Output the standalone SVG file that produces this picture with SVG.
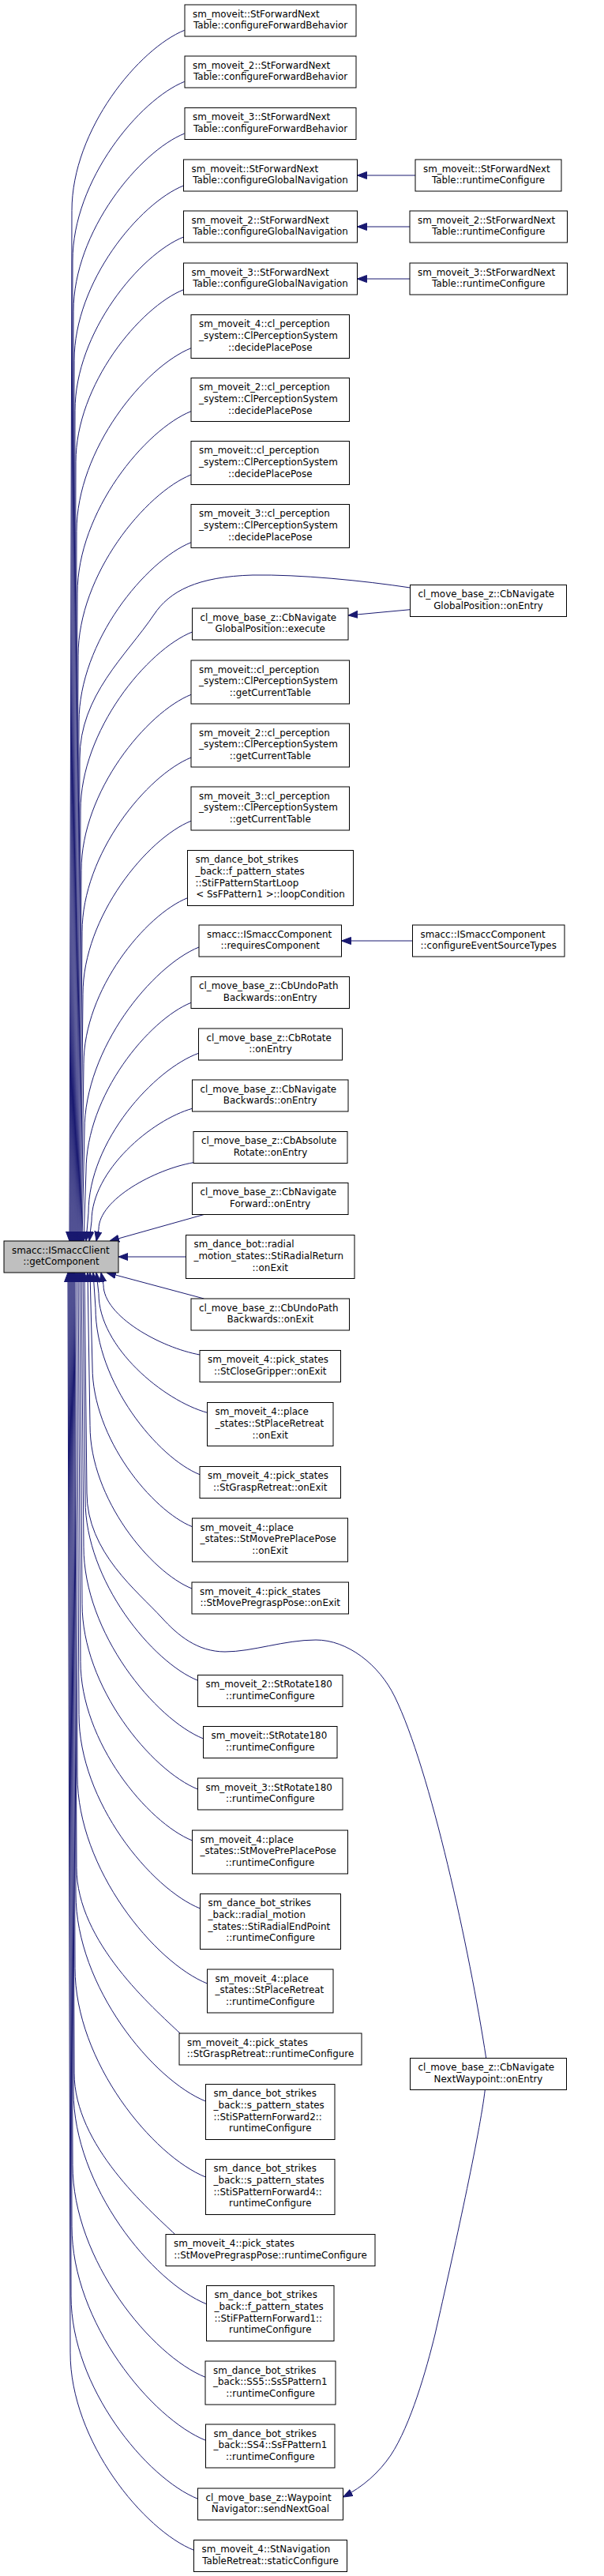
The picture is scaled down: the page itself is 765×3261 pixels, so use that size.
<svg xmlns="http://www.w3.org/2000/svg" width="765" height="3261" viewBox="0 0 765 3261">
<defs>
<marker id="a" viewBox="0 0 12 10" refX="12" refY="5" markerWidth="12" markerHeight="10" markerUnits="userSpaceOnUse" orient="auto">
<path d="M0,0.5 L12,5 L0,9.5 z" fill="#191970" stroke="#191970" stroke-width="1"/>
</marker>
<style>
rect{fill:#fff;stroke:#000;stroke-width:1}
#L rect{fill:#bfbfbf}
text{font-family:"DejaVu Sans","Liberation Sans",sans-serif;font-size:11.9px;fill:#000}
.l{text-anchor:start}
.c{text-anchor:middle}
#edges path{fill:none;stroke:#191970;stroke-width:1;marker-end:url(#a)}
</style>
</defs>
<rect x="0" y="0" width="765" height="3261" style="fill:#fff;stroke:none"/>
<g id="edges">
<path d="M233.7,38.3 C176.6,61.1 91,163.9 91,266.6 L88,1571"/>
<path d="M233.7,103.3 C177,126 92,228 92,330 L89,1571"/>
<path d="M233.7,169 C177.4,191.5 93,292.8 93,394.1 L90,1571"/>
<path d="M232.5,235 C177,257.1 94,356.7 94,456.3 L91,1571"/>
<path d="M232.5,300 C177.4,322 95,420.8 95,519.7 L92,1571"/>
<path d="M232.5,366.7 C177.8,388.5 96,486.7 96,584.8 L93,1571"/>
<path d="M242,440.7 C184,463.9 97,568.3 97,672.7 L94,1571"/>
<path d="M242,520.7 C184.4,543.7 98,647.4 98,751.1 L95,1571"/>
<path d="M242,601 C184.8,623.9 99,726.8 99,829.8 L96,1571"/>
<path d="M242,686.7 C185.2,709.4 100,811.7 100,913.9 L97,1571"/>
<path d="M519.5,744 C460,735 380,727 320,728 C250,730 215,748 195,778 C160,830 101,880 101,960 L98,1571"/>
<path d="M243.5,800 C186.8,822.6 102,924.4 102,1026.1 L99,1571"/>
<path d="M242,879.3 C186.4,901.5 103,1001.6 103,1101.7 L100,1571"/>
<path d="M242,959 C186.8,981.1 104,1080.4 104,1179.8 L101,1571"/>
<path d="M242,1039.3 C187.2,1061.2 105,1159.9 105,1258.5 L102,1571"/>
<path d="M237.5,1136.7 C184.8,1157.7 106,1252.3 106,1346.8 L103,1571"/>
<path d="M252,1199 C194,1222.2 107,1326.6 107,1431 L104,1571"/>
<path d="M242,1269.3 C188.8,1290.6 109,1386.3 109,1482.1 L106,1571"/>
<path d="M251.5,1333.3 C195.6,1353.5 112,1444.4 112,1535.3 L109,1571"/>
<path d="M243.5,1403.3 C192.4,1417.6 116,1481.7 116,1545.8 L113,1571"/>
<path d="M245,1471.7 C196.8,1480.1 125,1518.1 125,1556.1 L122,1571"/>
<path d="M258.3,1537.5 L139,1571"/>
<path d="M235.5,1591 L150,1591"/>
<path d="M258.3,1644 L135,1611"/>
<path d="M253,1715 C204.2,1706.2 131,1666.4 131,1626.6 L128,1611"/>
<path d="M262.5,1788.3 C207.4,1773.2 125,1705.4 125,1637.6 L122,1611"/>
<path d="M253,1866.7 C200.2,1845.6 121,1750.5 121,1655.5 L118,1611"/>
<path d="M243.5,1932.7 C193,1912.4 117,1821.2 117,1730 L114,1611"/>
<path d="M243,2011 C191.4,1990.4 114,1897.5 114,1804.6 L111,1611"/>
<path d="M615.7,2605.5 C595,2470 545,2240 500,2148 C480,2107 440,2076 400,2076 C360,2076 320,2091 285,2091 C250,2091 225,2070 205,2048 C175,2015 110,1965 110,1890 L107,1611"/>
<path d="M250.5,2127.3 C193.6,2104.5 108,2001.7 108,1899 L105,1611"/>
<path d="M257.5,2201 C197,2176.7 106,2067.5 106,1958.3 L103,1611"/>
<path d="M250.5,2265 C192,2241.5 104,2135.9 104,2030.3 L101,1611"/>
<path d="M243.5,2330 C187,2307.3 102,2205.3 102,2103.3 L99,1611"/>
<path d="M253.5,2416 C192,2391.5 100,2281.1 100,2170.7 L97,1611"/>
<path d="M262.5,2511 C196.6,2484.7 98,2366.4 98,2248.1 L95,1611"/>
<path d="M228,2574 C195.3,2542.6 97,2458.7 97,2364.4 L94,1611"/>
<path d="M260.5,2660 C194.6,2633.7 96,2515.4 96,2397.1 L93,1611"/>
<path d="M260.5,2756 C194.2,2729.6 95,2610.5 95,2491.5 L92,1611"/>
<path d="M221.7,2828.5 C189.8,2797.9 94,2716.1 94,2624.2 L91,1611"/>
<path d="M261.5,2916.7 C194.1,2889.7 93,2768.4 93,2647.1 L90,1611"/>
<path d="M260,3009.3 C192.8,2982.4 92,2861.5 92,2740.5 L89,1611"/>
<path d="M260.5,3089.3 C192.6,3062.2 91,2940.3 91,2818.4 L88,1611"/>
<path d="M250.5,3163.3 C186.2,3137.7 90,3022.2 90,2906.8 L87,1611"/>
<path d="M245.5,3228.3 C182.8,3203.3 89,3090.8 89,2978.2 L86,1611"/>
<path d="M526,222 L452.5,222"/>
<path d="M519,287 L452.5,287"/>
<path d="M519,353 L452.5,353"/>
<path d="M522.5,1191 L432.5,1191"/>
<path d="M519.5,771.7 L441,779"/>
<path d="M614.3,2645.5 C608,2700 575,2850 551,2955 C540,3000 520,3070 495,3108 C480,3130 460,3148 434.5,3161"/>
</g>
<g id="L"><rect x="5" y="1571" width="145" height="40"/><text class="l" x="15" y="1586.8">smacc::ISmaccClient</text><text class="c" x="77.5" y="1601.4">::getComponent</text></g>
<g id="n1"><rect x="234" y="6" width="217" height="40"/><text class="l" x="244" y="21.8">sm_moveit::StForwardNext</text><text class="c" x="342.5" y="36.4">Table::configureForwardBehavior</text></g>
<g id="n2"><rect x="234" y="71" width="217" height="40"/><text class="l" x="244" y="86.8">sm_moveit_2::StForwardNext</text><text class="c" x="342.5" y="101.4">Table::configureForwardBehavior</text></g>
<g id="n3"><rect x="234" y="136.5" width="217" height="40"/><text class="l" x="244" y="152.3">sm_moveit_3::StForwardNext</text><text class="c" x="342.5" y="166.9">Table::configureForwardBehavior</text></g>
<g id="n4"><rect x="232.5" y="202" width="220" height="40"/><text class="l" x="242.5" y="217.8">sm_moveit::StForwardNext</text><text class="c" x="342.5" y="232.4">Table::configureGlobalNavigation</text></g>
<g id="n5"><rect x="232.5" y="267" width="220" height="40"/><text class="l" x="242.5" y="282.8">sm_moveit_2::StForwardNext</text><text class="c" x="342.5" y="297.4">Table::configureGlobalNavigation</text></g>
<g id="n6"><rect x="232.5" y="333" width="220" height="40"/><text class="l" x="242.5" y="348.8">sm_moveit_3::StForwardNext</text><text class="c" x="342.5" y="363.4">Table::configureGlobalNavigation</text></g>
<g id="n7"><rect x="242" y="398.5" width="200.5" height="55"/><text class="l" x="252" y="414.3">sm_moveit_4::cl_perception</text><text class="l" x="252" y="428.9">_system::ClPerceptionSystem</text><text class="c" x="342.25" y="443.5">::decidePlacePose</text></g>
<g id="n8"><rect x="242" y="478.5" width="200.5" height="55"/><text class="l" x="252" y="494.3">sm_moveit_2::cl_perception</text><text class="l" x="252" y="508.9">_system::ClPerceptionSystem</text><text class="c" x="342.25" y="523.5">::decidePlacePose</text></g>
<g id="n9"><rect x="242" y="558.5" width="200.5" height="55"/><text class="l" x="252" y="574.3">sm_moveit::cl_perception</text><text class="l" x="252" y="588.9">_system::ClPerceptionSystem</text><text class="c" x="342.25" y="603.5">::decidePlacePose</text></g>
<g id="n10"><rect x="242" y="638.5" width="200.5" height="55"/><text class="l" x="252" y="654.3">sm_moveit_3::cl_perception</text><text class="l" x="252" y="668.9">_system::ClPerceptionSystem</text><text class="c" x="342.25" y="683.5">::decidePlacePose</text></g>
<g id="n11"><rect x="243.5" y="770" width="197.5" height="40"/><text class="l" x="253.5" y="785.8">cl_move_base_z::CbNavigate</text><text class="c" x="342.25" y="800.4">GlobalPosition::execute</text></g>
<g id="n12"><rect x="242" y="836" width="200.5" height="55"/><text class="l" x="252" y="851.8">sm_moveit::cl_perception</text><text class="l" x="252" y="866.4">_system::ClPerceptionSystem</text><text class="c" x="342.25" y="881">::getCurrentTable</text></g>
<g id="n13"><rect x="242" y="916" width="200.5" height="55"/><text class="l" x="252" y="931.8">sm_moveit_2::cl_perception</text><text class="l" x="252" y="946.4">_system::ClPerceptionSystem</text><text class="c" x="342.25" y="961">::getCurrentTable</text></g>
<g id="n14"><rect x="242" y="996" width="200.5" height="55"/><text class="l" x="252" y="1011.8">sm_moveit_3::cl_perception</text><text class="l" x="252" y="1026.4">_system::ClPerceptionSystem</text><text class="c" x="342.25" y="1041">::getCurrentTable</text></g>
<g id="n15"><rect x="237.5" y="1076.5" width="210" height="70"/><text class="l" x="247.5" y="1092.3">sm_dance_bot_strikes</text><text class="l" x="247.5" y="1106.9">_back::f_pattern_states</text><text class="l" x="247.5" y="1121.5">::StiFPatternStartLoop</text><text class="c" x="342.5" y="1136.1">&lt; SsFPattern1 &gt;::loopCondition</text></g>
<g id="n16"><rect x="252" y="1171" width="180.5" height="40"/><text class="l" x="262" y="1186.8">smacc::ISmaccComponent</text><text class="c" x="342.25" y="1201.4">::requiresComponent</text></g>
<g id="n17"><rect x="242" y="1236.5" width="200.5" height="40"/><text class="l" x="252" y="1252.3">cl_move_base_z::CbUndoPath</text><text class="c" x="342.25" y="1266.9">Backwards::onEntry</text></g>
<g id="n18"><rect x="251.5" y="1302" width="182" height="40"/><text class="l" x="261.5" y="1317.8">cl_move_base_z::CbRotate</text><text class="c" x="342.5" y="1332.4">::onEntry</text></g>
<g id="n19"><rect x="243.5" y="1367" width="197.5" height="40"/><text class="l" x="253.5" y="1382.8">cl_move_base_z::CbNavigate</text><text class="c" x="342.25" y="1397.4">Backwards::onEntry</text></g>
<g id="n20"><rect x="245" y="1432.5" width="195" height="40"/><text class="l" x="255" y="1448.3">cl_move_base_z::CbAbsolute</text><text class="c" x="342.5" y="1462.9">Rotate::onEntry</text></g>
<g id="n21"><rect x="243.5" y="1497.5" width="197.5" height="40"/><text class="l" x="253.5" y="1513.3">cl_move_base_z::CbNavigate</text><text class="c" x="342.25" y="1527.9">Forward::onEntry</text></g>
<g id="n22"><rect x="235.5" y="1563.5" width="213.5" height="55"/><text class="l" x="245.5" y="1579.3">sm_dance_bot::radial</text><text class="l" x="245.5" y="1593.9">_motion_states::StiRadialReturn</text><text class="c" x="342.25" y="1608.5">::onExit</text></g>
<g id="n23"><rect x="242" y="1644" width="200.5" height="40"/><text class="l" x="252" y="1659.8">cl_move_base_z::CbUndoPath</text><text class="c" x="342.25" y="1674.4">Backwards::onExit</text></g>
<g id="n24"><rect x="253" y="1709.5" width="178.5" height="40"/><text class="l" x="263" y="1725.3">sm_moveit_4::pick_states</text><text class="c" x="342.25" y="1739.9">::StCloseGripper::onExit</text></g>
<g id="n25"><rect x="262.5" y="1775.5" width="159.5" height="55"/><text class="l" x="272.5" y="1791.3">sm_moveit_4::place</text><text class="l" x="272.5" y="1805.9">_states::StPlaceRetreat</text><text class="c" x="342.25" y="1820.5">::onExit</text></g>
<g id="n26"><rect x="253" y="1856.5" width="178.5" height="40"/><text class="l" x="263" y="1872.3">sm_moveit_4::pick_states</text><text class="c" x="342.25" y="1886.9">::StGraspRetreat::onExit</text></g>
<g id="n27"><rect x="243.5" y="1922" width="197" height="55"/><text class="l" x="253.5" y="1937.8">sm_moveit_4::place</text><text class="l" x="253.5" y="1952.4">_states::StMovePrePlacePose</text><text class="c" x="342" y="1967">::onExit</text></g>
<g id="n28"><rect x="243" y="2003" width="198.5" height="40"/><text class="l" x="253" y="2018.8">sm_moveit_4::pick_states</text><text class="c" x="342.25" y="2033.4">::StMovePregraspPose::onExit</text></g>
<g id="n29"><rect x="250.5" y="2120.5" width="183.5" height="40"/><text class="l" x="260.5" y="2136.3">sm_moveit_2::StRotate180</text><text class="c" x="342.25" y="2150.9">::runtimeConfigure</text></g>
<g id="n30"><rect x="257.5" y="2185.5" width="169.5" height="40"/><text class="l" x="267.5" y="2201.3">sm_moveit::StRotate180</text><text class="c" x="342.25" y="2215.9">::runtimeConfigure</text></g>
<g id="n31"><rect x="250.5" y="2251" width="183.5" height="40"/><text class="l" x="260.5" y="2266.8">sm_moveit_3::StRotate180</text><text class="c" x="342.25" y="2281.4">::runtimeConfigure</text></g>
<g id="n32"><rect x="243.5" y="2317" width="197" height="55"/><text class="l" x="253.5" y="2332.8">sm_moveit_4::place</text><text class="l" x="253.5" y="2347.4">_states::StMovePrePlacePose</text><text class="c" x="342" y="2362">::runtimeConfigure</text></g>
<g id="n33"><rect x="253.5" y="2397.5" width="178" height="70"/><text class="l" x="263.5" y="2413.3">sm_dance_bot_strikes</text><text class="l" x="263.5" y="2427.9">_back::radial_motion</text><text class="l" x="263.5" y="2442.5">_states::StiRadialEndPoint</text><text class="c" x="342.5" y="2457.1">::runtimeConfigure</text></g>
<g id="n34"><rect x="262.5" y="2493" width="159.5" height="55"/><text class="l" x="272.5" y="2508.8">sm_moveit_4::place</text><text class="l" x="272.5" y="2523.4">_states::StPlaceRetreat</text><text class="c" x="342.25" y="2538">::runtimeConfigure</text></g>
<g id="n35"><rect x="227" y="2574" width="231" height="40"/><text class="l" x="237" y="2589.8">sm_moveit_4::pick_states</text><text class="c" x="342.5" y="2604.4">::StGraspRetreat::runtimeConfigure</text></g>
<g id="n36"><rect x="260.5" y="2638.5" width="163.5" height="70"/><text class="l" x="270.5" y="2654.3">sm_dance_bot_strikes</text><text class="l" x="270.5" y="2668.9">_back::s_pattern_states</text><text class="l" x="270.5" y="2683.5">::StiSPatternForward2::</text><text class="c" x="342.25" y="2698.1">runtimeConfigure</text></g>
<g id="n37"><rect x="260.5" y="2733.5" width="163.5" height="70"/><text class="l" x="270.5" y="2749.3">sm_dance_bot_strikes</text><text class="l" x="270.5" y="2763.9">_back::s_pattern_states</text><text class="l" x="270.5" y="2778.5">::StiSPatternForward4::</text><text class="c" x="342.25" y="2793.1">runtimeConfigure</text></g>
<g id="n38"><rect x="210" y="2828.5" width="265" height="40"/><text class="l" x="220" y="2844.3">sm_moveit_4::pick_states</text><text class="c" x="342.5" y="2858.9">::StMovePregraspPose::runtimeConfigure</text></g>
<g id="n39"><rect x="261.5" y="2893.5" width="161.5" height="70"/><text class="l" x="271.5" y="2909.3">sm_dance_bot_strikes</text><text class="l" x="271.5" y="2923.9">_back::f_pattern_states</text><text class="l" x="271.5" y="2938.5">::StiFPatternForward1::</text><text class="c" x="342.25" y="2953.1">runtimeConfigure</text></g>
<g id="n40"><rect x="260" y="2989" width="165" height="55"/><text class="l" x="270" y="3004.8">sm_dance_bot_strikes</text><text class="l" x="270" y="3019.4">_back::SS5::SsSPattern1</text><text class="c" x="342.5" y="3034">::runtimeConfigure</text></g>
<g id="n41"><rect x="260.5" y="3069" width="163.5" height="55"/><text class="l" x="270.5" y="3084.8">sm_dance_bot_strikes</text><text class="l" x="270.5" y="3099.4">_back::SS4::SsFPattern1</text><text class="c" x="342.25" y="3114">::runtimeConfigure</text></g>
<g id="n42"><rect x="250.5" y="3150" width="184" height="40"/><text class="l" x="260.5" y="3165.8">cl_move_base_z::Waypoint</text><text class="c" x="342.5" y="3180.4">Navigator::sendNextGoal</text></g>
<g id="n43"><rect x="245.5" y="3215.5" width="194" height="40"/><text class="l" x="255.5" y="3231.3">sm_moveit_4::StNavigation</text><text class="c" x="342.5" y="3245.9">TableRetreat::staticConfigure</text></g>
<g id="R1"><rect x="526" y="202" width="185" height="40"/><text class="l" x="536" y="217.8">sm_moveit::StForwardNext</text><text class="c" x="618.5" y="232.4">Table::runtimeConfigure</text></g>
<g id="R2"><rect x="519" y="267" width="199.5" height="40"/><text class="l" x="529" y="282.8">sm_moveit_2::StForwardNext</text><text class="c" x="618.75" y="297.4">Table::runtimeConfigure</text></g>
<g id="R3"><rect x="519" y="333" width="199.5" height="40"/><text class="l" x="529" y="348.8">sm_moveit_3::StForwardNext</text><text class="c" x="618.75" y="363.4">Table::runtimeConfigure</text></g>
<g id="R4"><rect x="519.5" y="740.5" width="198" height="40"/><text class="l" x="529.5" y="756.3">cl_move_base_z::CbNavigate</text><text class="c" x="618.5" y="770.9">GlobalPosition::onEntry</text></g>
<g id="R5"><rect x="522.5" y="1171" width="192.5" height="40"/><text class="l" x="532.5" y="1186.8">smacc::ISmaccComponent</text><text class="c" x="618.75" y="1201.4">::configureEventSourceTypes</text></g>
<g id="R6"><rect x="519.5" y="2605.5" width="198" height="40"/><text class="l" x="529.5" y="2621.3">cl_move_base_z::CbNavigate</text><text class="c" x="618.5" y="2635.9">NextWaypoint::onEntry</text></g>
</svg>
